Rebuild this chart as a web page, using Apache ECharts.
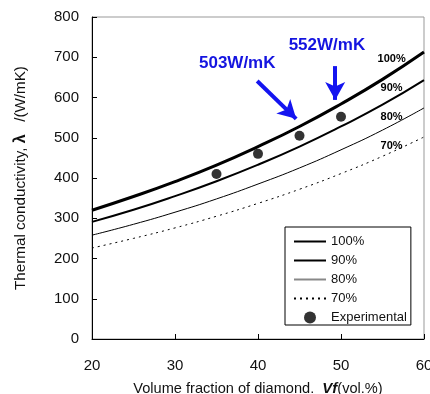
<!DOCTYPE html>
<html>
<head>
<meta charset="utf-8">
<script src="https://cdn.jsdelivr.net/npm/echarts@6/dist/echarts.min.js"></script>
<style>
  html, body { margin: 0; padding: 0; background: #fff; }
  #main { width: 430px; height: 394px; }
</style>
</head>
<body>
<div id="main"></div>
<script>
// volume fraction of diamond (vol.%)
var vf = [20, 25, 30, 35, 40, 45, 50, 55, 60];
// calculated thermal conductivity (W/mK) for each contact ratio
var k100 = [320, 354, 391, 432, 478, 528, 584, 645, 713];
var k90 = [291, 321, 355, 392, 433, 478, 528, 582, 643];
var k80 = [258, 285, 315, 348, 385, 425, 470, 519, 574];
var k70 = [226, 250, 276, 305, 337, 372, 411, 454, 502];
// measured
var expVf = [35, 40, 45, 50];
var expK = [410, 460, 505, 552];
var yTicks = [0, 100, 200, 300, 400, 500, 600, 700, 800];
var xTicks = [20, 30, 40, 50, 60];

var FONT = '"Liberation Sans", Arial, sans-serif';

function pairs(xs, ys) {
    return xs.map(function (x, i) { return [x, ys[i]]; });
}

// small curve labels near the right edge
function curveLabel(text, x, y) {
    return {
        symbol: 'circle', symbolSize: 1,
        itemStyle: { color: 'rgba(0,0,0,0)' },
        label: {
            show: true, position: 'inside', formatter: text,
            fontSize: 11, fontWeight: 'bold', color: '#000', fontFamily: FONT
        },
        data: [{ coord: [x, y] }]
    };
}

var chart = echarts.init(document.getElementById('main'));

var option = {
    animation: false,
    textStyle: { fontFamily: FONT },
    grid: {
        left: 92, right: 6, top: 17, bottom: 55,
        outerBoundsMode: 'none', containLabel: false,
        show: true, borderColor: '#999', borderWidth: 1
    },
    legend: {
        orient: 'vertical',
        left: 285, top: 227,
        padding: [8, 4, 1, 8],
        itemWidth: 32, itemHeight: 12, itemGap: 6,
        borderColor: '#000', borderWidth: 1,
        backgroundColor: '#fff',
        textStyle: { fontSize: 13, color: '#111', fontFamily: FONT },
        data: [
            { name: '100%', itemStyle: { opacity: 0 } },
            { name: '90%', itemStyle: { opacity: 0 } },
            { name: '80%', itemStyle: { opacity: 0 }, lineStyle: { color: '#888', width: 2 } },
            { name: '70%', itemStyle: { opacity: 0 } },
            { name: 'Experimental' }
        ]
    },
    xAxis: {
        type: 'value', min: xTicks[0], max: xTicks[xTicks.length - 1], interval: 10,
        axisLine: { lineStyle: { color: '#000', width: 1 } },
        axisTick: { inside: true, length: 5, lineStyle: { color: '#000' } },
        axisLabel: { fontSize: 15, color: '#111', margin: 19 },
        splitLine: { show: false },
        name: '{n|Volume fraction of diamond.  }{b|Vf}{n|(vol.%)}',
        nameLocation: 'middle', nameGap: 42,
        nameTextStyle: {
            rich: {
                n: { fontSize: 14.6, color: '#111', fontFamily: FONT },
                b: { fontSize: 15, color: '#111', fontWeight: 'bold', fontStyle: 'italic', fontFamily: FONT }
            }
        }
    },
    yAxis: {
        type: 'value', min: yTicks[0], max: yTicks[yTicks.length - 1], interval: 100,
        axisLine: { show: true, lineStyle: { color: '#000', width: 1 } },
        axisTick: { show: true, inside: true, length: 5, lineStyle: { color: '#000' } },
        axisLabel: { fontSize: 15, color: '#111', margin: 13 },
        splitLine: { show: false },
        name: '{n|Thermal conductivity, }{b|λ}{n|   /(W/mK)}',
        nameLocation: 'middle', nameGap: 63,
        nameTextStyle: {
            rich: {
                n: { fontSize: 15.2, color: '#111', fontFamily: FONT },
                b: { fontSize: 16, color: '#111', fontWeight: 'bold', fontFamily: FONT }
            }
        }
    },
    series: [
        {
            name: '100%', type: 'line', smooth: true, symbol: 'none', color: '#000',
            lineStyle: { color: '#000', width: 3 },
            data: pairs(vf, k100),
            markPoint: curveLabel('100%', 56.1, 696)
        },
        {
            name: '90%', type: 'line', smooth: true, symbol: 'none', color: '#000',
            lineStyle: { color: '#000', width: 2 },
            data: pairs(vf, k90),
            markPoint: curveLabel('90%', 56.1, 624)
        },
        {
            name: '80%', type: 'line', smooth: true, symbol: 'none', color: '#000',
            lineStyle: { color: '#000', width: 1 },
            data: pairs(vf, k80),
            markPoint: curveLabel('80%', 56.1, 552)
        },
        {
            name: '70%', type: 'line', smooth: true, symbol: 'none', color: '#000',
            lineStyle: { color: '#000', width: 1, type: [2, 4] },
            data: pairs(vf, k70),
            markPoint: curveLabel('70%', 56.1, 480)
        },
        {
            name: 'Experimental', type: 'scatter', symbol: 'circle', symbolSize: 10,
            itemStyle: { color: '#000' },
            data: pairs(expVf, expK),
            z: 5
        },
        {
            // blue annotations with arrows
            type: 'line', data: [], silent: true,
            markLine: {
                silent: true,
                symbol: ['none', 'arrow'], symbolSize: [15, 18],
                label: { show: false },
                lineStyle: { color: '#1414f0', width: 4, type: 'solid' },
                data: [
                    [{ coord: [39.9, 641] }, { coord: [44.6, 547] }],
                    [{ coord: [49.3, 678] }, { coord: [49.3, 594] }]
                ]
            },
            markPoint: {
                symbol: 'circle', symbolSize: 1,
                itemStyle: { color: 'rgba(0,0,0,0)' },
                label: { show: true, position: 'inside', fontSize: 17, fontWeight: 'bold', color: '#1414e0', fontFamily: FONT },
                data: [
                    { coord: [37.5, 686], label: { formatter: '503W/mK' } },
                    { coord: [48.3, 730], label: { formatter: '552W/mK' } }
                ]
            }
        }
    ]
};

chart.setOption(option);
window.addEventListener('resize', function () { chart.resize(); });
</script>
</body>
</html>
